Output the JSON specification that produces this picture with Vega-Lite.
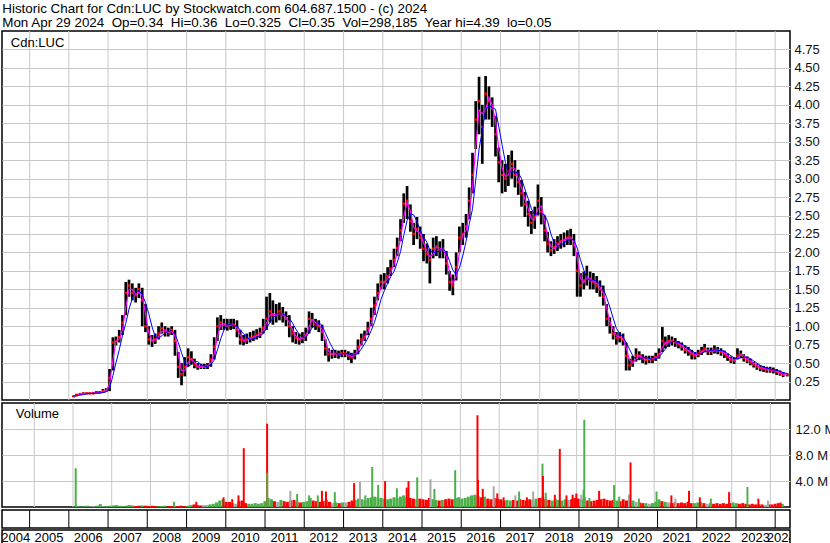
{
"$schema": "https://vega.github.io/schema/vega-lite/v6.json",
"padding": {"left": 1, "top": 1, "right": 0, "bottom": 0},
"background": "white",
"spacing": -1,
"title": {"text": ["Historic Chart for Cdn:LUC by Stockwatch.com 604.687.1500 - (c) 2024", "Mon Apr 29 2024\u00a0 Op=0.34\u00a0 Hi=0.36\u00a0 Lo=0.325\u00a0 Cl=0.35\u00a0 Vol=298,185\u00a0 Year hi=4.39\u00a0 lo=0.05"], "anchor": "start", "frame": "bounds", "font": "Liberation Sans", "fontSize": 13.4, "fontWeight": "normal", "color": "black", "lineHeight": 14.8, "offset": 0, "dx": 1},
"config": {
  "font": "Liberation Sans",
  "view": {"stroke": "black", "strokeWidth": 1.5},
  "axis": {"labelFont": "Liberation Sans", "labelFontSize": 13, "labelColor": "#111", "gridColor": "#c8c8c8", "gridWidth": 1, "gridOpacity": 1, "tickSize": 0, "ticks": false, "domain": false, "labelOverlap": false, "labelSeparation": 0},
  "axisY": {"labelOverlap": false},
  "axisRight": {"labelOverlap": false},
  "axisQuantitative": {"labelOverlap": false}
},
"datasets": {
"px": [
{"d":"2006-02-15","h":0.06,"l":0.04,"c":0.05,"m":0.05,"b":0.05},
{"d":"2006-03-15","h":0.08,"l":0.05,"c":0.07,"m":0.06,"b":0.06},
{"d":"2006-04-15","h":0.09,"l":0.07,"c":0.08,"m":0.075,"b":0.067},
{"d":"2006-05-15","h":0.1,"l":0.08,"c":0.09,"m":0.085,"b":0.073},
{"d":"2006-06-15","h":0.1,"l":0.08,"c":0.09,"m":0.09,"b":0.083},
{"d":"2006-07-15","h":0.1,"l":0.08,"c":0.09,"m":0.09,"b":0.088},
{"d":"2006-08-15","h":0.11,"l":0.08,"c":0.09,"m":0.09,"b":0.09},
{"d":"2006-09-15","h":0.12,"l":0.09,"c":0.1,"m":0.095,"b":0.093},
{"d":"2006-10-15","h":0.12,"l":0.09,"c":0.1,"m":0.1,"b":0.095},
{"d":"2006-11-15","h":0.15,"l":0.1,"c":0.12,"m":0.11,"b":0.1},
{"d":"2006-12-15","h":0.16,"l":0.11,"c":0.13,"m":0.125,"b":0.11},
{"d":"2007-01-15","h":0.42,"l":0.12,"c":0.3,"m":0.215,"b":0.16},
{"d":"2007-02-15","h":0.85,"l":0.4,"c":0.78,"m":0.54,"b":0.33},
{"d":"2007-03-15","h":0.86,"l":0.74,"c":0.8,"m":0.79,"b":0.5},
{"d":"2007-04-15","h":0.95,"l":0.78,"c":0.85,"m":0.825,"b":0.68},
{"d":"2007-05-15","h":1.15,"l":0.88,"c":1.05,"m":0.95,"b":0.87},
{"d":"2007-06-15","h":1.6,"l":1.15,"c":1.45,"m":1.25,"b":1.04},
{"d":"2007-07-15","h":1.63,"l":1.4,"c":1.55,"m":1.5,"b":1.23},
{"d":"2007-08-15","h":1.58,"l":1.35,"c":1.45,"m":1.5,"b":1.38},
{"d":"2007-09-15","h":1.52,"l":1.32,"c":1.42,"m":1.43,"b":1.47},
{"d":"2007-10-15","h":1.58,"l":1.38,"c":1.5,"m":1.46,"b":1.48},
{"d":"2007-11-15","h":1.52,"l":1.0,"c":1.35,"m":1.42,"b":1.43},
{"d":"2007-12-15","h":1.3,"l":0.92,"c":1.0,"m":1.17,"b":1.32},
{"d":"2008-01-15","h":1.0,"l":0.75,"c":0.82,"m":0.91,"b":1.17},
{"d":"2008-02-15","h":0.88,"l":0.72,"c":0.8,"m":0.81,"b":0.99},
{"d":"2008-03-15","h":0.9,"l":0.76,"c":0.82,"m":0.81,"b":0.86},
{"d":"2008-04-15","h":1.0,"l":0.82,"c":0.9,"m":0.86,"b":0.84},
{"d":"2008-05-15","h":1.05,"l":0.9,"c":0.97,"m":0.93,"b":0.87},
{"d":"2008-06-15","h":1.0,"l":0.86,"c":0.93,"m":0.95,"b":0.91},
{"d":"2008-07-15","h":0.98,"l":0.86,"c":0.92,"m":0.92,"b":0.93},
{"d":"2008-08-15","h":1.0,"l":0.88,"c":0.95,"m":0.93,"b":0.94},
{"d":"2008-09-15","h":0.95,"l":0.6,"c":0.8,"m":0.87,"b":0.9},
{"d":"2008-10-15","h":0.65,"l":0.3,"c":0.45,"m":0.62,"b":0.78},
{"d":"2008-11-15","h":0.5,"l":0.2,"c":0.35,"m":0.4,"b":0.64},
{"d":"2008-12-15","h":0.58,"l":0.32,"c":0.45,"m":0.4,"b":0.51},
{"d":"2009-01-15","h":0.7,"l":0.45,"c":0.58,"m":0.51,"b":0.46},
{"d":"2009-02-15","h":0.66,"l":0.48,"c":0.55,"m":0.56,"b":0.48},
{"d":"2009-03-15","h":0.56,"l":0.43,"c":0.48,"m":0.51,"b":0.52},
{"d":"2009-04-15","h":0.5,"l":0.41,"c":0.45,"m":0.46,"b":0.52},
{"d":"2009-05-15","h":0.49,"l":0.42,"c":0.45,"m":0.45,"b":0.48},
{"d":"2009-06-15","h":0.49,"l":0.42,"c":0.45,"m":0.45,"b":0.46},
{"d":"2009-07-15","h":0.5,"l":0.42,"c":0.46,"m":0.455,"b":0.45},
{"d":"2009-08-15","h":0.62,"l":0.45,"c":0.55,"m":0.5,"b":0.48},
{"d":"2009-09-15","h":0.85,"l":0.55,"c":0.72,"m":0.63,"b":0.54},
{"d":"2009-10-15","h":1.12,"l":0.8,"c":1.0,"m":0.86,"b":0.68},
{"d":"2009-11-15","h":1.15,"l":0.95,"c":1.05,"m":1.02,"b":0.83},
{"d":"2009-12-15","h":1.1,"l":0.95,"c":1.02,"m":1.03,"b":0.95},
{"d":"2010-01-15","h":1.1,"l":0.94,"c":1.0,"m":1.01,"b":1.02},
{"d":"2010-02-15","h":1.1,"l":0.95,"c":1.02,"m":1.01,"b":1.02},
{"d":"2010-03-15","h":1.1,"l":0.96,"c":1.02,"m":1.02,"b":1.01},
{"d":"2010-04-15","h":1.08,"l":0.85,"c":0.95,"m":0.98,"b":1.0},
{"d":"2010-05-15","h":0.95,"l":0.75,"c":0.82,"m":0.88,"b":0.95},
{"d":"2010-06-15","h":0.88,"l":0.74,"c":0.8,"m":0.81,"b":0.9},
{"d":"2010-07-15","h":0.9,"l":0.76,"c":0.82,"m":0.81,"b":0.85},
{"d":"2010-08-15","h":0.92,"l":0.78,"c":0.84,"m":0.83,"b":0.82},
{"d":"2010-09-15","h":0.94,"l":0.8,"c":0.86,"m":0.85,"b":0.83},
{"d":"2010-10-15","h":0.96,"l":0.82,"c":0.88,"m":0.87,"b":0.85},
{"d":"2010-11-15","h":0.98,"l":0.84,"c":0.9,"m":0.89,"b":0.87},
{"d":"2010-12-15","h":1.1,"l":0.9,"c":0.98,"m":0.94,"b":0.9},
{"d":"2011-01-15","h":1.4,"l":0.95,"c":1.1,"m":1.04,"b":0.97},
{"d":"2011-02-15","h":1.45,"l":1.05,"c":1.2,"m":1.15,"b":1.05},
{"d":"2011-03-15","h":1.35,"l":1.02,"c":1.15,"m":1.17,"b":1.11},
{"d":"2011-04-15","h":1.3,"l":1.05,"c":1.15,"m":1.15,"b":1.15},
{"d":"2011-05-15","h":1.32,"l":1.08,"c":1.2,"m":1.17,"b":1.18},
{"d":"2011-06-15","h":1.26,"l":1.05,"c":1.15,"m":1.17,"b":1.16},
{"d":"2011-07-15","h":1.2,"l":1.0,"c":1.1,"m":1.12,"b":1.15},
{"d":"2011-08-15","h":1.15,"l":0.85,"c":1.0,"m":1.05,"b":1.11},
{"d":"2011-09-15","h":1.0,"l":0.78,"c":0.9,"m":0.95,"b":1.04},
{"d":"2011-10-15","h":0.92,"l":0.76,"c":0.84,"m":0.87,"b":0.96},
{"d":"2011-11-15","h":0.9,"l":0.75,"c":0.82,"m":0.83,"b":0.89},
{"d":"2011-12-15","h":0.92,"l":0.77,"c":0.84,"m":0.83,"b":0.85},
{"d":"2012-01-15","h":0.98,"l":0.8,"c":0.88,"m":0.86,"b":0.85},
{"d":"2012-02-15","h":1.2,"l":0.9,"c":1.1,"m":0.99,"b":0.91},
{"d":"2012-03-15","h":1.18,"l":0.98,"c":1.08,"m":1.09,"b":0.98},
{"d":"2012-04-15","h":1.1,"l":0.95,"c":1.02,"m":1.05,"b":1.02},
{"d":"2012-05-15","h":1.08,"l":0.92,"c":1.0,"m":1.01,"b":1.05},
{"d":"2012-06-15","h":1.02,"l":0.8,"c":0.92,"m":0.96,"b":1.01},
{"d":"2012-07-15","h":0.82,"l":0.6,"c":0.7,"m":0.81,"b":0.91},
{"d":"2012-08-15","h":0.7,"l":0.52,"c":0.62,"m":0.66,"b":0.81},
{"d":"2012-09-15","h":0.68,"l":0.56,"c":0.62,"m":0.62,"b":0.72},
{"d":"2012-10-15","h":0.68,"l":0.57,"c":0.63,"m":0.625,"b":0.64},
{"d":"2012-11-15","h":0.67,"l":0.56,"c":0.62,"m":0.625,"b":0.62},
{"d":"2012-12-15","h":0.68,"l":0.58,"c":0.63,"m":0.625,"b":0.625},
{"d":"2013-01-15","h":0.68,"l":0.58,"c":0.63,"m":0.63,"b":0.63},
{"d":"2013-02-15","h":0.66,"l":0.54,"c":0.6,"m":0.615,"b":0.62},
{"d":"2013-03-15","h":0.64,"l":0.5,"c":0.58,"m":0.59,"b":0.61},
{"d":"2013-04-15","h":0.68,"l":0.55,"c":0.62,"m":0.6,"b":0.61},
{"d":"2013-05-15","h":0.82,"l":0.62,"c":0.72,"m":0.67,"b":0.63},
{"d":"2013-06-15","h":0.9,"l":0.74,"c":0.82,"m":0.77,"b":0.69},
{"d":"2013-07-15","h":0.94,"l":0.8,"c":0.86,"m":0.84,"b":0.76},
{"d":"2013-08-15","h":1.06,"l":0.88,"c":0.97,"m":0.92,"b":0.84},
{"d":"2013-09-15","h":1.25,"l":1.0,"c":1.1,"m":1.04,"b":0.94},
{"d":"2013-10-15","h":1.4,"l":1.15,"c":1.28,"m":1.19,"b":1.05},
{"d":"2013-11-15","h":1.58,"l":1.35,"c":1.45,"m":1.37,"b":1.2},
{"d":"2013-12-15","h":1.7,"l":1.5,"c":1.6,"m":1.53,"b":1.36},
{"d":"2014-01-15","h":1.72,"l":1.5,"c":1.6,"m":1.6,"b":1.48},
{"d":"2014-02-15","h":1.8,"l":1.58,"c":1.68,"m":1.64,"b":1.58},
{"d":"2014-03-15","h":1.9,"l":1.68,"c":1.78,"m":1.73,"b":1.67},
{"d":"2014-04-15","h":2.05,"l":1.8,"c":1.9,"m":1.84,"b":1.74},
{"d":"2014-05-15","h":2.2,"l":1.95,"c":2.06,"m":1.98,"b":1.86},
{"d":"2014-06-15","h":2.45,"l":2.15,"c":2.3,"m":2.18,"b":2.01},
{"d":"2014-07-15","h":2.8,"l":2.4,"c":2.66,"m":2.48,"b":2.23},
{"d":"2014-08-15","h":2.9,"l":2.45,"c":2.7,"m":2.68,"b":2.43},
{"d":"2014-09-15","h":2.65,"l":2.28,"c":2.42,"m":2.56,"b":2.52},
{"d":"2014-10-15","h":2.4,"l":2.1,"c":2.25,"m":2.34,"b":2.51},
{"d":"2014-11-15","h":2.48,"l":2.18,"c":2.32,"m":2.29,"b":2.42},
{"d":"2014-12-15","h":2.35,"l":2.05,"c":2.2,"m":2.26,"b":2.3},
{"d":"2015-01-15","h":2.25,"l":1.88,"c":2.05,"m":2.13,"b":2.21},
{"d":"2015-02-15","h":2.12,"l":1.85,"c":1.98,"m":2.02,"b":2.14},
{"d":"2015-03-15","h":2.05,"l":1.58,"c":1.9,"m":1.94,"b":2.03},
{"d":"2015-04-15","h":2.2,"l":1.92,"c":2.05,"m":1.98,"b":2.0},
{"d":"2015-05-15","h":2.22,"l":1.95,"c":2.08,"m":2.07,"b":2.0},
{"d":"2015-06-15","h":2.15,"l":1.92,"c":2.03,"m":2.06,"b":2.02},
{"d":"2015-07-15","h":2.18,"l":1.92,"c":2.05,"m":2.04,"b":2.05},
{"d":"2015-08-15","h":2.02,"l":1.7,"c":1.85,"m":1.95,"b":2.0},
{"d":"2015-09-15","h":1.75,"l":1.48,"c":1.6,"m":1.73,"b":1.88},
{"d":"2015-10-15","h":1.7,"l":1.42,"c":1.55,"m":1.58,"b":1.76},
{"d":"2015-11-15","h":2.0,"l":1.62,"c":1.8,"m":1.68,"b":1.7},
{"d":"2015-12-15","h":2.35,"l":2.0,"c":2.2,"m":2.0,"b":1.79},
{"d":"2016-01-15","h":2.4,"l":2.1,"c":2.25,"m":2.23,"b":1.95},
{"d":"2016-02-15","h":2.52,"l":2.2,"c":2.35,"m":2.3,"b":2.15},
{"d":"2016-03-15","h":2.88,"l":2.45,"c":2.7,"m":2.53,"b":2.38},
{"d":"2016-04-15","h":3.35,"l":2.8,"c":3.05,"m":2.88,"b":2.59},
{"d":"2016-05-15","h":4.05,"l":3.4,"c":3.8,"m":3.43,"b":2.98},
{"d":"2016-06-15","h":4.38,"l":3.6,"c":4.05,"m":3.93,"b":3.4},
{"d":"2016-07-15","h":4.0,"l":3.2,"c":3.7,"m":3.88,"b":3.65},
{"d":"2016-08-15","h":4.39,"l":3.8,"c":4.15,"m":3.93,"b":3.93},
{"d":"2016-09-15","h":4.25,"l":3.8,"c":4.05,"m":4.1,"b":3.99},
{"d":"2016-10-15","h":4.1,"l":3.7,"c":3.95,"m":4.0,"b":3.96},
{"d":"2016-11-15","h":3.85,"l":3.3,"c":3.6,"m":3.78,"b":3.94},
{"d":"2016-12-15","h":3.42,"l":2.95,"c":3.22,"m":3.41,"b":3.71},
{"d":"2017-01-15","h":3.25,"l":2.8,"c":3.05,"m":3.14,"b":3.46},
{"d":"2017-02-15","h":3.2,"l":2.82,"c":3.0,"m":3.03,"b":3.22},
{"d":"2017-03-15","h":3.32,"l":2.9,"c":3.1,"m":3.05,"b":3.09},
{"d":"2017-04-15","h":3.38,"l":3.0,"c":3.2,"m":3.15,"b":3.09},
{"d":"2017-05-15","h":3.25,"l":2.88,"c":3.05,"m":3.13,"b":3.09},
{"d":"2017-06-15","h":3.12,"l":2.78,"c":2.95,"m":3.0,"b":3.08},
{"d":"2017-07-15","h":2.98,"l":2.62,"c":2.8,"m":2.88,"b":3.0},
{"d":"2017-08-15","h":2.82,"l":2.48,"c":2.65,"m":2.73,"b":2.86},
{"d":"2017-09-15","h":2.7,"l":2.35,"c":2.52,"m":2.59,"b":2.73},
{"d":"2017-10-15","h":2.56,"l":2.25,"c":2.4,"m":2.46,"b":2.59},
{"d":"2017-11-15","h":2.62,"l":2.32,"c":2.48,"m":2.44,"b":2.51},
{"d":"2017-12-15","h":2.92,"l":2.5,"c":2.7,"m":2.59,"b":2.53},
{"d":"2018-01-15","h":2.75,"l":2.38,"c":2.55,"m":2.63,"b":2.53},
{"d":"2018-02-15","h":2.5,"l":2.15,"c":2.3,"m":2.43,"b":2.51},
{"d":"2018-03-15","h":2.28,"l":2.0,"c":2.12,"m":2.21,"b":2.42},
{"d":"2018-04-15","h":2.15,"l":1.95,"c":2.03,"m":2.08,"b":2.25},
{"d":"2018-05-15","h":2.18,"l":1.98,"c":2.07,"m":2.05,"b":2.13},
{"d":"2018-06-15","h":2.22,"l":2.02,"c":2.12,"m":2.1,"b":2.09},
{"d":"2018-07-15","h":2.25,"l":2.05,"c":2.15,"m":2.14,"b":2.09},
{"d":"2018-08-15","h":2.27,"l":2.07,"c":2.17,"m":2.16,"b":2.13},
{"d":"2018-09-15","h":2.3,"l":2.1,"c":2.2,"m":2.19,"b":2.16},
{"d":"2018-10-15","h":2.32,"l":2.1,"c":2.2,"m":2.2,"b":2.18},
{"d":"2018-11-15","h":2.25,"l":1.95,"c":2.1,"m":2.15,"b":2.17},
{"d":"2018-12-15","h":2.0,"l":1.4,"c":1.75,"m":1.93,"b":2.06},
{"d":"2019-01-15","h":1.72,"l":1.4,"c":1.55,"m":1.65,"b":1.9},
{"d":"2019-02-15","h":1.74,"l":1.5,"c":1.62,"m":1.59,"b":1.76},
{"d":"2019-03-15","h":1.82,"l":1.55,"c":1.67,"m":1.65,"b":1.65},
{"d":"2019-04-15","h":1.74,"l":1.5,"c":1.62,"m":1.65,"b":1.62},
{"d":"2019-05-15","h":1.72,"l":1.5,"c":1.6,"m":1.61,"b":1.63},
{"d":"2019-06-15","h":1.68,"l":1.45,"c":1.55,"m":1.58,"b":1.61},
{"d":"2019-07-15","h":1.62,"l":1.4,"c":1.5,"m":1.53,"b":1.57},
{"d":"2019-08-15","h":1.55,"l":1.28,"c":1.4,"m":1.45,"b":1.51},
{"d":"2019-09-15","h":1.3,"l":1.0,"c":1.1,"m":1.25,"b":1.39},
{"d":"2019-10-15","h":1.12,"l":0.9,"c":1.02,"m":1.06,"b":1.26},
{"d":"2019-11-15","h":1.0,"l":0.82,"c":0.9,"m":0.96,"b":1.11},
{"d":"2019-12-15","h":0.92,"l":0.75,"c":0.84,"m":0.87,"b":0.97},
{"d":"2020-01-15","h":0.92,"l":0.78,"c":0.85,"m":0.85,"b":0.9},
{"d":"2020-02-15","h":0.9,"l":0.74,"c":0.82,"m":0.84,"b":0.85},
{"d":"2020-03-15","h":0.78,"l":0.4,"c":0.6,"m":0.71,"b":0.78},
{"d":"2020-04-15","h":0.56,"l":0.4,"c":0.47,"m":0.54,"b":0.69},
{"d":"2020-05-15","h":0.6,"l":0.45,"c":0.52,"m":0.5,"b":0.6},
{"d":"2020-06-15","h":0.7,"l":0.52,"c":0.6,"m":0.56,"b":0.55},
{"d":"2020-07-15","h":0.66,"l":0.54,"c":0.6,"m":0.6,"b":0.55},
{"d":"2020-08-15","h":0.62,"l":0.5,"c":0.56,"m":0.58,"b":0.57},
{"d":"2020-09-15","h":0.6,"l":0.48,"c":0.54,"m":0.55,"b":0.58},
{"d":"2020-10-15","h":0.6,"l":0.5,"c":0.55,"m":0.55,"b":0.56},
{"d":"2020-11-15","h":0.6,"l":0.5,"c":0.55,"m":0.55,"b":0.55},
{"d":"2020-12-15","h":0.64,"l":0.53,"c":0.58,"m":0.57,"b":0.56},
{"d":"2021-01-15","h":0.7,"l":0.56,"c":0.62,"m":0.6,"b":0.58},
{"d":"2021-02-15","h":0.99,"l":0.65,"c":0.8,"m":0.71,"b":0.64},
{"d":"2021-03-15","h":0.86,"l":0.7,"c":0.76,"m":0.78,"b":0.69},
{"d":"2021-04-15","h":0.88,"l":0.72,"c":0.8,"m":0.78,"b":0.75},
{"d":"2021-05-15","h":0.86,"l":0.74,"c":0.8,"m":0.8,"b":0.79},
{"d":"2021-06-15","h":0.84,"l":0.72,"c":0.78,"m":0.79,"b":0.79},
{"d":"2021-07-15","h":0.8,"l":0.7,"c":0.75,"m":0.77,"b":0.78},
{"d":"2021-08-15","h":0.78,"l":0.67,"c":0.72,"m":0.74,"b":0.76},
{"d":"2021-09-15","h":0.74,"l":0.63,"c":0.68,"m":0.7,"b":0.73},
{"d":"2021-10-15","h":0.72,"l":0.6,"c":0.66,"m":0.67,"b":0.7},
{"d":"2021-11-15","h":0.68,"l":0.55,"c":0.62,"m":0.64,"b":0.67},
{"d":"2021-12-15","h":0.65,"l":0.55,"c":0.6,"m":0.61,"b":0.64},
{"d":"2022-01-15","h":0.68,"l":0.58,"c":0.63,"m":0.62,"b":0.63},
{"d":"2022-02-15","h":0.72,"l":0.61,"c":0.66,"m":0.65,"b":0.63},
{"d":"2022-03-15","h":0.76,"l":0.65,"c":0.7,"m":0.68,"b":0.65},
{"d":"2022-04-15","h":0.71,"l":0.61,"c":0.66,"m":0.68,"b":0.66},
{"d":"2022-05-15","h":0.71,"l":0.61,"c":0.66,"m":0.66,"b":0.67},
{"d":"2022-06-15","h":0.74,"l":0.63,"c":0.68,"m":0.67,"b":0.68},
{"d":"2022-07-15","h":0.72,"l":0.62,"c":0.67,"m":0.68,"b":0.67},
{"d":"2022-08-15","h":0.7,"l":0.6,"c":0.65,"m":0.66,"b":0.67},
{"d":"2022-09-15","h":0.67,"l":0.57,"c":0.62,"m":0.64,"b":0.66},
{"d":"2022-10-15","h":0.63,"l":0.53,"c":0.58,"m":0.6,"b":0.63},
{"d":"2022-11-15","h":0.59,"l":0.5,"c":0.54,"m":0.56,"b":0.6},
{"d":"2022-12-15","h":0.58,"l":0.49,"c":0.53,"m":0.54,"b":0.57},
{"d":"2023-01-15","h":0.7,"l":0.55,"c":0.6,"m":0.57,"b":0.56},
{"d":"2023-02-15","h":0.67,"l":0.57,"c":0.62,"m":0.61,"b":0.57},
{"d":"2023-03-15","h":0.62,"l":0.52,"c":0.57,"m":0.6,"b":0.58},
{"d":"2023-04-15","h":0.59,"l":0.5,"c":0.54,"m":0.56,"b":0.58},
{"d":"2023-05-15","h":0.56,"l":0.47,"c":0.51,"m":0.53,"b":0.56},
{"d":"2023-06-15","h":0.52,"l":0.44,"c":0.48,"m":0.5,"b":0.53},
{"d":"2023-07-15","h":0.49,"l":0.41,"c":0.45,"m":0.47,"b":0.5},
{"d":"2023-08-15","h":0.47,"l":0.39,"c":0.43,"m":0.44,"b":0.47},
{"d":"2023-09-15","h":0.46,"l":0.38,"c":0.42,"m":0.43,"b":0.45},
{"d":"2023-10-15","h":0.45,"l":0.37,"c":0.41,"m":0.42,"b":0.43},
{"d":"2023-11-15","h":0.45,"l":0.37,"c":0.41,"m":0.41,"b":0.42},
{"d":"2023-12-15","h":0.44,"l":0.36,"c":0.4,"m":0.4,"b":0.41},
{"d":"2024-01-15","h":0.42,"l":0.34,"c":0.38,"m":0.39,"b":0.4},
{"d":"2024-02-15","h":0.4,"l":0.33,"c":0.36,"m":0.37,"b":0.39},
{"d":"2024-03-15","h":0.38,"l":0.31,"c":0.34,"m":0.35,"b":0.37},
{"d":"2024-04-22","h":0.36,"l":0.32,"c":0.35,"m":0.35,"b":0.36}
],
"vol": [
{"d":"2006-02-15","v":0.15,"k":"u"},{"d":"2006-03-15","v":0.1,"k":"u"},{"d":"2006-04-15","v":0.12,"k":"u"},{"d":"2006-05-15","v":0.2,"k":"u"},{"d":"2006-06-15","v":0.1,"k":"n"},{"d":"2006-07-15","v":0.15,"k":"n"},{"d":"2006-08-15","v":0.2,"k":"u"},{"d":"2006-09-15","v":0.45,"k":"u"},{"d":"2006-10-15","v":0.12,"k":"n"},{"d":"2006-11-15","v":0.15,"k":"u"},{"d":"2006-12-15","v":0.2,"k":"u"},
{"d":"2007-01-15","v":0.25,"k":"u"},{"d":"2007-02-15","v":0.3,"k":"u"},{"d":"2007-03-15","v":0.2,"k":"u"},{"d":"2007-04-15","v":0.15,"k":"u"},{"d":"2007-05-15","v":0.2,"k":"u"},{"d":"2007-06-15","v":0.3,"k":"u"},{"d":"2007-07-15","v":0.25,"k":"u"},{"d":"2007-08-15","v":0.15,"k":"d"},{"d":"2007-09-15","v":0.2,"k":"d"},{"d":"2007-10-15","v":0.25,"k":"u"},{"d":"2007-11-15","v":0.2,"k":"d"},{"d":"2007-12-15","v":0.15,"k":"d"},
{"d":"2008-01-15","v":0.2,"k":"d"},{"d":"2008-02-15","v":0.15,"k":"d"},{"d":"2008-03-15","v":0.1,"k":"u"},{"d":"2008-04-15","v":0.15,"k":"u"},{"d":"2008-05-15","v":0.2,"k":"u"},{"d":"2008-06-15","v":0.1,"k":"d"},{"d":"2008-07-15","v":0.15,"k":"d"},{"d":"2008-08-15","v":0.2,"k":"u"},{"d":"2008-09-15","v":0.15,"k":"d"},{"d":"2008-10-15","v":0.2,"k":"d"},{"d":"2008-11-15","v":0.15,"k":"d"},{"d":"2008-12-15","v":0.2,"k":"u"},
{"d":"2009-01-15","v":0.3,"k":"u"},{"d":"2009-02-15","v":0.4,"k":"d"},{"d":"2009-03-15","v":0.3,"k":"d"},{"d":"2009-04-15","v":0.25,"k":"d"},{"d":"2009-05-15","v":0.3,"k":"n"},{"d":"2009-06-15","v":0.3,"k":"n"},{"d":"2009-07-15","v":0.4,"k":"u"},{"d":"2009-08-15","v":0.5,"k":"u"},{"d":"2009-09-15","v":0.7,"k":"u"},{"d":"2009-10-15","v":1.0,"k":"u"},{"d":"2009-11-15","v":1.2,"k":"u"},{"d":"2009-12-15","v":0.8,"k":"d"},
{"d":"2010-01-15","v":0.8,"k":"d"},{"d":"2010-02-15","v":0.6,"k":"u"},{"d":"2010-03-15","v":0.5,"k":"n"},{"d":"2010-04-15","v":0.9,"k":"d"},{"d":"2010-05-15","v":1.0,"k":"d"},{"d":"2010-06-15","v":0.6,"k":"d"},{"d":"2010-07-15","v":0.5,"k":"u"},{"d":"2010-08-15","v":0.5,"k":"u"},{"d":"2010-09-15","v":0.6,"k":"u"},{"d":"2010-10-15","v":0.5,"k":"u"},{"d":"2010-11-15","v":0.6,"k":"u"},{"d":"2010-12-15","v":0.9,"k":"u"},
{"d":"2011-01-15","v":1.4,"k":"u"},{"d":"2011-02-15","v":1.2,"k":"u"},{"d":"2011-03-15","v":0.9,"k":"d"},{"d":"2011-04-15","v":0.8,"k":"n"},{"d":"2011-05-15","v":1.1,"k":"u"},{"d":"2011-06-15","v":0.9,"k":"d"},{"d":"2011-07-15","v":0.8,"k":"d"},{"d":"2011-08-15","v":1.0,"k":"d"},{"d":"2011-09-15","v":1.1,"k":"d"},{"d":"2011-10-15","v":0.8,"k":"d"},{"d":"2011-11-15","v":0.7,"k":"d"},{"d":"2011-12-15","v":0.8,"k":"u"},
{"d":"2012-01-15","v":0.9,"k":"u"},{"d":"2012-02-15","v":1.4,"k":"u"},{"d":"2012-03-15","v":1.0,"k":"d"},{"d":"2012-04-15","v":0.9,"k":"d"},{"d":"2012-05-15","v":0.8,"k":"d"},{"d":"2012-06-15","v":0.9,"k":"d"},{"d":"2012-07-15","v":1.1,"k":"d"},{"d":"2012-08-15","v":0.8,"k":"d"},{"d":"2012-09-15","v":0.6,"k":"n"},{"d":"2012-10-15","v":0.7,"k":"u"},{"d":"2012-11-15","v":0.6,"k":"d"},{"d":"2012-12-15","v":0.7,"k":"u"},
{"d":"2013-01-15","v":0.7,"k":"n"},{"d":"2013-02-15","v":0.8,"k":"d"},{"d":"2013-03-15","v":1.0,"k":"d"},{"d":"2013-04-15","v":1.1,"k":"u"},{"d":"2013-05-15","v":1.3,"k":"u"},{"d":"2013-06-15","v":1.2,"k":"u"},{"d":"2013-07-15","v":1.1,"k":"u"},{"d":"2013-08-15","v":1.4,"k":"u"},{"d":"2013-09-15","v":1.5,"k":"u"},{"d":"2013-10-15","v":1.6,"k":"u"},{"d":"2013-11-15","v":1.5,"k":"u"},{"d":"2013-12-15","v":1.4,"k":"u"},
{"d":"2014-01-15","v":1.3,"k":"u"},{"d":"2014-02-15","v":1.2,"k":"u"},{"d":"2014-03-15","v":1.3,"k":"u"},{"d":"2014-04-15","v":1.5,"k":"u"},{"d":"2014-05-15","v":1.4,"k":"u"},{"d":"2014-06-15","v":1.6,"k":"u"},{"d":"2014-07-15","v":1.8,"k":"u"},{"d":"2014-08-15","v":1.5,"k":"u"},{"d":"2014-09-15","v":1.4,"k":"d"},{"d":"2014-10-15","v":1.3,"k":"d"},{"d":"2014-11-15","v":1.2,"k":"u"},{"d":"2014-12-15","v":1.3,"k":"d"},
{"d":"2015-01-15","v":1.2,"k":"d"},{"d":"2015-02-15","v":1.1,"k":"d"},{"d":"2015-03-15","v":1.4,"k":"d"},{"d":"2015-04-15","v":1.2,"k":"u"},{"d":"2015-05-15","v":1.1,"k":"u"},{"d":"2015-06-15","v":1.0,"k":"d"},{"d":"2015-07-15","v":1.1,"k":"u"},{"d":"2015-08-15","v":1.2,"k":"d"},{"d":"2015-09-15","v":1.3,"k":"d"},{"d":"2015-10-15","v":1.2,"k":"d"},{"d":"2015-11-15","v":1.4,"k":"u"},{"d":"2015-12-15","v":1.5,"k":"u"},
{"d":"2016-01-15","v":1.3,"k":"u"},{"d":"2016-02-15","v":1.4,"k":"u"},{"d":"2016-03-15","v":1.6,"k":"u"},{"d":"2016-04-15","v":1.8,"k":"u"},{"d":"2016-05-15","v":1.9,"k":"u"},{"d":"2016-06-15","v":1.7,"k":"u"},{"d":"2016-07-15","v":1.5,"k":"d"},{"d":"2016-08-15","v":1.6,"k":"u"},{"d":"2016-09-15","v":1.3,"k":"d"},{"d":"2016-10-15","v":1.2,"k":"d"},{"d":"2016-11-15","v":1.4,"k":"d"},{"d":"2016-12-15","v":1.3,"k":"d"},
{"d":"2017-01-15","v":1.2,"k":"d"},{"d":"2017-02-15","v":1.0,"k":"d"},{"d":"2017-03-15","v":1.1,"k":"u"},{"d":"2017-04-15","v":1.0,"k":"u"},{"d":"2017-05-15","v":1.1,"k":"d"},{"d":"2017-06-15","v":1.0,"k":"d"},{"d":"2017-07-15","v":1.2,"k":"d"},{"d":"2017-08-15","v":1.1,"k":"d"},{"d":"2017-09-15","v":1.0,"k":"d"},{"d":"2017-10-15","v":1.2,"k":"d"},{"d":"2017-11-15","v":1.1,"k":"u"},{"d":"2017-12-15","v":1.3,"k":"u"},
{"d":"2018-01-15","v":1.4,"k":"d"},{"d":"2018-02-15","v":1.5,"k":"d"},{"d":"2018-03-15","v":1.2,"k":"d"},{"d":"2018-04-15","v":1.1,"k":"d"},{"d":"2018-05-15","v":1.0,"k":"u"},{"d":"2018-06-15","v":1.2,"k":"u"},{"d":"2018-07-15","v":1.1,"k":"u"},{"d":"2018-08-15","v":1.0,"k":"u"},{"d":"2018-09-15","v":1.2,"k":"u"},{"d":"2018-10-15","v":1.1,"k":"n"},{"d":"2018-11-15","v":1.2,"k":"d"},{"d":"2018-12-15","v":1.4,"k":"d"},
{"d":"2019-01-15","v":1.3,"k":"d"},{"d":"2019-02-15","v":1.2,"k":"u"},{"d":"2019-03-15","v":1.5,"k":"u"},{"d":"2019-04-15","v":1.0,"k":"d"},{"d":"2019-05-15","v":0.9,"k":"d"},{"d":"2019-06-15","v":1.0,"k":"d"},{"d":"2019-07-15","v":1.1,"k":"d"},{"d":"2019-08-15","v":1.2,"k":"d"},{"d":"2019-09-15","v":1.3,"k":"d"},{"d":"2019-10-15","v":1.1,"k":"d"},{"d":"2019-11-15","v":1.0,"k":"d"},{"d":"2019-12-15","v":1.1,"k":"d"},
{"d":"2020-01-15","v":1.0,"k":"u"},{"d":"2020-02-15","v":0.9,"k":"d"},{"d":"2020-03-15","v":1.2,"k":"d"},{"d":"2020-04-15","v":1.0,"k":"d"},{"d":"2020-05-15","v":0.9,"k":"u"},{"d":"2020-06-15","v":1.0,"k":"u"},{"d":"2020-07-15","v":0.8,"k":"n"},{"d":"2020-08-15","v":0.7,"k":"d"},{"d":"2020-09-15","v":0.6,"k":"d"},{"d":"2020-10-15","v":0.6,"k":"u"},{"d":"2020-11-15","v":0.5,"k":"n"},{"d":"2020-12-15","v":0.6,"k":"u"},
{"d":"2021-01-15","v":0.8,"k":"u"},{"d":"2021-02-15","v":1.2,"k":"u"},{"d":"2021-03-15","v":0.9,"k":"d"},{"d":"2021-04-15","v":0.8,"k":"u"},{"d":"2021-05-15","v":0.7,"k":"n"},{"d":"2021-06-15","v":0.6,"k":"d"},{"d":"2021-07-15","v":0.7,"k":"d"},{"d":"2021-08-15","v":0.6,"k":"d"},{"d":"2021-09-15","v":0.7,"k":"d"},{"d":"2021-10-15","v":0.6,"k":"d"},{"d":"2021-11-15","v":0.8,"k":"d"},{"d":"2021-12-15","v":0.6,"k":"d"},
{"d":"2022-01-15","v":0.6,"k":"u"},{"d":"2022-02-15","v":0.7,"k":"u"},{"d":"2022-03-15","v":0.8,"k":"u"},{"d":"2022-04-15","v":0.6,"k":"d"},{"d":"2022-05-15","v":0.5,"k":"n"},{"d":"2022-06-15","v":0.6,"k":"u"},{"d":"2022-07-15","v":0.5,"k":"d"},{"d":"2022-08-15","v":0.6,"k":"d"},{"d":"2022-09-15","v":0.5,"k":"d"},{"d":"2022-10-15","v":0.6,"k":"d"},{"d":"2022-11-15","v":0.5,"k":"d"},{"d":"2022-12-15","v":0.6,"k":"d"},
{"d":"2023-01-15","v":0.7,"k":"u"},{"d":"2023-02-15","v":0.6,"k":"u"},{"d":"2023-03-15","v":0.5,"k":"d"},{"d":"2023-04-15","v":0.6,"k":"d"},{"d":"2023-05-15","v":0.5,"k":"d"},{"d":"2023-06-15","v":0.4,"k":"d"},{"d":"2023-07-15","v":0.5,"k":"d"},{"d":"2023-08-15","v":0.4,"k":"d"},{"d":"2023-09-15","v":0.4,"k":"d"},{"d":"2023-10-15","v":0.4,"k":"d"},{"d":"2023-11-15","v":0.3,"k":"n"},{"d":"2023-12-15","v":0.4,"k":"d"},
{"d":"2024-01-15","v":0.4,"k":"d"},{"d":"2024-02-15","v":0.5,"k":"d"},{"d":"2024-03-15","v":0.6,"k":"d"},{"d":"2024-04-22","v":0.5,"k":"u"}
],
"spk": [
{"d":"2006-01-27","v":6.0,"k":"u"},{"d":"2008-08-10","v":0.8,"k":"u"},{"d":"2009-03-08","v":0.8,"k":"d"},{"d":"2009-11-20","v":1.5,"k":"d"},{"d":"2010-02-10","v":1.2,"k":"d"},{"d":"2010-04-10","v":1.8,"k":"d"},{"d":"2010-05-30","v":9.1,"k":"d"},
{"d":"2011-01-05","v":12.9,"k":"d"},{"d":"2011-01-06","v":5.3,"k":"u"},{"d":"2011-08-12","v":2.5,"k":"n"},{"d":"2011-10-15","v":2.0,"k":"u"},{"d":"2012-02-05","v":1.8,"k":"u"},{"d":"2012-04-27","v":1.8,"k":"u"},{"d":"2012-06-05","v":2.5,"k":"d"},{"d":"2012-07-13","v":2.4,"k":"d"},{"d":"2012-10-04","v":2.3,"k":"u"},
{"d":"2013-04-04","v":3.7,"k":"d"},{"d":"2013-05-30","v":3.9,"k":"n"},{"d":"2013-07-19","v":1.8,"k":"u"},{"d":"2013-09-22","v":6.2,"k":"u"},{"d":"2013-11-17","v":3.4,"k":"u"},{"d":"2014-01-21","v":4.0,"k":"d"},{"d":"2014-05-12","v":2.9,"k":"u"},{"d":"2014-08-13","v":3.0,"k":"d"},{"d":"2014-08-30","v":4.0,"k":"d"},{"d":"2014-11-20","v":4.6,"k":"u"},
{"d":"2015-03-25","v":4.3,"k":"n"},{"d":"2015-05-01","v":2.8,"k":"u"},{"d":"2015-11-13","v":5.7,"k":"u"},{"d":"2016-06-10","v":14.2,"k":"d"},{"d":"2016-06-15","v":4.2,"k":"d"},{"d":"2016-07-30","v":2.8,"k":"d"},{"d":"2016-11-10","v":3.2,"k":"n"},{"d":"2016-12-14","v":2.1,"k":"d"},
{"d":"2017-02-11","v":1.5,"k":"d"},{"d":"2017-06-02","v":1.8,"k":"n"},{"d":"2017-07-08","v":2.4,"k":"u"},{"d":"2017-09-19","v":1.5,"k":"d"},{"d":"2017-11-17","v":2.4,"k":"n"},{"d":"2018-02-13","v":6.7,"k":"u"},{"d":"2018-02-17","v":4.8,"k":"d"},{"d":"2018-03-15","v":2.2,"k":"u"},{"d":"2018-06-09","v":1.9,"k":"d"},{"d":"2018-07-26","v":9.0,"k":"d"},{"d":"2018-09-27","v":1.8,"k":"d"},{"d":"2018-11-24","v":1.9,"k":"d"},{"d":"2018-12-29","v":2.1,"k":"d"},
{"d":"2019-02-14","v":1.9,"k":"n"},{"d":"2019-03-08","v":2.7,"k":"u"},{"d":"2019-03-14","v":13.5,"k":"u"},{"d":"2019-05-01","v":1.4,"k":"u"},{"d":"2019-08-01","v":2.5,"k":"d"},{"d":"2019-12-20","v":3.4,"k":"u"},{"d":"2020-02-06","v":1.6,"k":"u"},{"d":"2020-05-08","v":1.9,"k":"n"},{"d":"2020-05-23","v":6.9,"k":"d"},{"d":"2020-08-10","v":1.3,"k":"u"},
{"d":"2021-01-23","v":2.4,"k":"u"},{"d":"2021-06-12","v":1.8,"k":"d"},{"d":"2021-07-20","v":1.3,"k":"n"},{"d":"2021-11-25","v":2.5,"k":"d"},{"d":"2022-03-07","v":1.5,"k":"d"},{"d":"2022-06-19","v":1.3,"k":"u"},{"d":"2022-12-08","v":2.3,"k":"d"},{"d":"2023-05-30","v":3.1,"k":"u"},{"d":"2023-09-10","v":1.3,"k":"d"},{"d":"2023-12-10","v":1.0,"k":"n"},{"d":"2024-04-05","v":0.7,"k":"d"}
],
"yrs": [
{"d":"2005-01-01"},{"d":"2006-01-01"},{"d":"2007-01-01"},{"d":"2008-01-01"},{"d":"2009-01-01"},{"d":"2010-01-01"},{"d":"2011-01-01"},{"d":"2012-01-01"},{"d":"2013-01-01"},{"d":"2014-01-01"},{"d":"2015-01-01"},{"d":"2016-01-01"},{"d":"2017-01-01"},{"d":"2018-01-01"},{"d":"2019-01-01"},{"d":"2020-01-01"},{"d":"2021-01-01"},{"d":"2022-01-01"},{"d":"2023-01-01"},{"d":"2024-01-01"}
],
"lbl": [
{"t":"2004","d":"2004-08-24"},{"t":"2005","d":"2005-07-01"},{"t":"2006","d":"2006-07-01"},{"t":"2007","d":"2007-07-01"},{"t":"2008","d":"2008-07-01"},{"t":"2009","d":"2009-07-01"},{"t":"2010","d":"2010-07-01"},{"t":"2011","d":"2011-07-01"},{"t":"2012","d":"2012-07-01"},{"t":"2013","d":"2013-07-01"},{"t":"2014","d":"2014-07-01"},{"t":"2015","d":"2015-07-01"},{"t":"2016","d":"2016-07-01"},{"t":"2017","d":"2017-07-01"},{"t":"2018","d":"2018-07-01"},{"t":"2019","d":"2019-07-01"},{"t":"2020","d":"2020-07-01"},{"t":"2021","d":"2021-07-01"},{"t":"2022","d":"2022-07-01"},{"t":"2023","d":"2023-07-01"},{"t":"2024","d":"2024-02-26"}
],
"tags": [
{"t":"Cdn:LUC","d":"2004-07-10","p":4.78,"v":13.8}
]
},
"vconcat": [
{
 "width": 788, "height": 369,
 "layer": [
  {"data": {"name": "yrs"}, "mark": {"type": "rule", "color": "#c8c8c8", "strokeWidth": 1},
   "encoding": {"x": {"field": "d", "type": "temporal", "scale": {"domain": ["2004-04-19", "2024-05-18"], "nice": false}, "axis": null}}},
  {"data": {"name": "px"}, "mark": {"type": "rule", "color": "black", "strokeWidth": 2.7},
   "encoding": {"x": {"field": "d", "type": "temporal", "axis": null}, "y": {"field": "l", "type": "quantitative", "scale": {"domain": [0, 5], "nice": false, "zero": true}, "axis": {"orient": "right", "title": null, "values": [0.25,0.5,0.75,1,1.25,1.5,1.75,2,2.25,2.5,2.75,3,3.25,3.5,3.75,4,4.25,4.5,4.75], "format": ".2f", "labelPadding": 4, "labelOverlap": false, "labelBound": false, "grid": true}}, "y2": {"field": "h"}}},
  {"data": {"name": "px"}, "mark": {"type": "square", "color": "red", "size": 6, "opacity": 1, "filled": true},
   "encoding": {"x": {"field": "d", "type": "temporal", "axis": null}, "y": {"field": "c", "type": "quantitative", "axis": {"orient": "right", "title": null, "values": [0.25,0.5,0.75,1,1.25,1.5,1.75,2,2.25,2.5,2.75,3,3.25,3.5,3.75,4,4.25,4.5,4.75], "format": ".2f", "labelPadding": 4, "labelOverlap": false, "labelBound": false, "grid": true}}}},
  {"data": {"name": "px"}, "mark": {"type": "line", "color": "#ff00ff", "strokeWidth": 1.2},
   "encoding": {"x": {"field": "d", "type": "temporal", "axis": null}, "y": {"field": "m", "type": "quantitative", "axis": {"orient": "right", "title": null, "values": [0.25,0.5,0.75,1,1.25,1.5,1.75,2,2.25,2.5,2.75,3,3.25,3.5,3.75,4,4.25,4.5,4.75], "format": ".2f", "labelPadding": 4, "labelOverlap": false, "labelBound": false, "grid": true}}}},
  {"data": {"name": "px"}, "mark": {"type": "line", "color": "#0000ff", "strokeWidth": 1},
   "encoding": {"x": {"field": "d", "type": "temporal", "axis": null}, "y": {"field": "b", "type": "quantitative", "axis": {"orient": "right", "title": null, "values": [0.25,0.5,0.75,1,1.25,1.5,1.75,2,2.25,2.5,2.75,3,3.25,3.5,3.75,4,4.25,4.5,4.75], "format": ".2f", "labelPadding": 4, "labelOverlap": false, "labelBound": false, "grid": true}}}},
  {"data": {"name": "tags"}, "mark": {"type": "text", "align": "left", "baseline": "alphabetic", "fontSize": 13, "color": "black", "font": "Liberation Sans"},
   "encoding": {"x": {"field": "d", "type": "temporal", "axis": null}, "y": {"field": "p", "type": "quantitative", "axis": {"orient": "right", "title": null, "values": [0.25,0.5,0.75,1,1.25,1.5,1.75,2,2.25,2.5,2.75,3,3.25,3.5,3.75,4,4.25,4.5,4.75], "format": ".2f", "labelPadding": 4, "labelOverlap": false, "labelBound": false, "grid": true}}, "text": {"field": "t"}}}
 ]
},
{
 "width": 788, "height": 104,
 "layer": [
  {"data": {"name": "yrs"}, "mark": {"type": "rule", "color": "#c8c8c8", "strokeWidth": 1},
   "encoding": {"x": {"field": "d", "type": "temporal", "scale": {"domain": ["2004-04-19", "2024-05-18"], "nice": false}, "axis": null}}},
  {"data": {"name": "vol"}, "mark": {"type": "bar", "size": 3},
   "encoding": {"x": {"field": "d", "type": "temporal", "axis": null}, "y": {"field": "v", "type": "quantitative", "scale": {"domain": [0, 16.1], "nice": false}, "axis": {"orient": "right", "title": null, "values": [4, 8, 12], "format": ".1f", "labelExpr": "datum.label + ' M'", "labelPadding": 5, "labelOverlap": false, "grid": true}},
     "color": {"field": "k", "type": "nominal", "scale": {"domain": ["u", "d", "n"], "range": ["#4caf4a", "#ff0000", "#a8a8a8"]}, "legend": null}}},
  {"data": {"name": "spk"}, "mark": {"type": "bar", "size": 2},
   "encoding": {"x": {"field": "d", "type": "temporal", "axis": null}, "y": {"field": "v", "type": "quantitative", "axis": {"orient": "right", "title": null, "values": [4, 8, 12], "format": ".1f", "labelExpr": "datum.label + ' M'", "labelPadding": 5, "labelOverlap": false, "grid": true}},
     "color": {"field": "k", "type": "nominal", "legend": null}}},
  {"data": {"name": "tags"}, "mark": {"type": "text", "align": "left", "baseline": "alphabetic", "fontSize": 13, "color": "black", "font": "Liberation Sans"},
   "encoding": {"x": {"field": "d", "type": "temporal", "axis": null}, "y": {"field": "v", "type": "quantitative", "axis": {"orient": "right", "title": null, "values": [4, 8, 12], "format": ".1f", "labelExpr": "datum.label + ' M'", "labelPadding": 5, "labelOverlap": false, "grid": true}}, "text": {"value": "Volume"}}}
 ]
},
{
 "width": 788, "height": 18,
 "data": {"name": "yrs"},
 "mark": {"type": "rule", "color": "black", "strokeWidth": 1},
 "encoding": {"x": {"field": "d", "type": "temporal", "scale": {"domain": ["2004-04-19", "2024-05-18"], "nice": false}, "axis": null}}
},
{
 "width": 788, "height": 15,
 "data": {"name": "lbl"},
 "mark": {"type": "text", "fontSize": 13, "color": "black", "font": "Liberation Sans", "align": "center", "baseline": "middle", "clip": true},
 "encoding": {"x": {"field": "d", "type": "temporal", "scale": {"domain": ["2004-04-19", "2024-05-18"], "nice": false}, "axis": null}, "text": {"field": "t"}}
}
]
}
